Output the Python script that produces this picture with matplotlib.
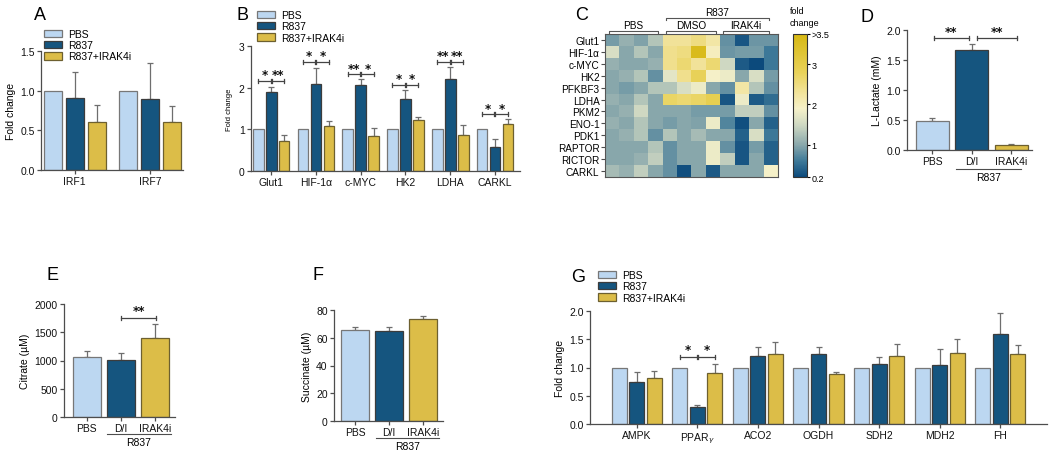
import numpy as np
import matplotlib
matplotlib.use('Agg')
from matplotlib import pyplot as plt
from matplotlib.colors import LinearSegmentedColormap, Normalize
from matplotlib.patches import Patch

plt.rcParams['font.family'] = ['Liberation Sans', 'DejaVu Sans']
plt.rcParams['font.size'] = 7
plt.rcParams['mathtext.fontset'] = 'dejavusans'

W, H = 1050, 456

# ---- data ----
legend_labels = ['PBS', 'R837', 'R837+IRAK4i']

a_genes = ['IRF1', 'IRF7']
a_pbs = [1.0, 1.0]
a_r837 = [0.91, 0.89]
a_r837_top = [1.23, 1.35]
a_irak = [0.61, 0.60]
a_irak_top = [0.82, 0.81]

b_genes = ['Glut1', 'HIF-1α', 'c-MYC', 'HK2', 'LDHA', 'CARKL']
b_pbs = [1.0, 1.0, 1.0, 1.0, 1.0, 1.0]
b_r837 = [1.90, 2.10, 2.06, 1.74, 2.22, 0.58]
b_r837_top = [2.02, 2.48, 2.22, 1.94, 2.50, 0.76]
b_irak = [0.73, 1.07, 0.84, 1.22, 0.86, 1.12]
b_irak_top = [0.87, 1.21, 1.04, 1.30, 1.10, 1.24]
b_sig_y = [2.16, 2.62, 2.32, 2.06, 2.62, 1.36]
b_sig_left = ['*', '*', '**', '*', '**', '*']
b_sig_right = ['**', '*', '*', '*', '**', '*']

c_rows = ['Glut1', 'HIF-1α', 'c-MYC', 'HK2', 'PFKBF3', 'LDHA', 'PKM2',
          'ENO-1', 'PDK1', 'RAPTOR', 'RICTOR', 'CARKL']
c_vals = [
    [0.9, 1.1, 0.95, 1.3, 2.3, 2.3, 2.5, 2.2, 0.8, 0.3, 0.85, 0.85],
    [1.6, 1.0, 1.3, 1.0, 2.4, 2.5, 3.6, 2.0, 0.85, 0.9, 0.9, 0.6],
    [1.1, 1.0, 1.0, 1.1, 2.4, 2.6, 2.3, 2.6, 1.5, 0.35, 0.2, 0.6],
    [1.0, 1.1, 1.3, 0.8, 1.7, 2.4, 2.8, 1.9, 1.8, 1.0, 1.6, 0.9],
    [1.0, 0.9, 1.0, 1.3, 1.3, 1.6, 1.8, 1.0, 0.8, 2.2, 1.3, 0.8],
    [1.1, 1.0, 1.3, 1.0, 2.7, 2.6, 2.7, 2.9, 0.3, 1.8, 0.35, 0.5],
    [1.0, 1.1, 1.5, 1.0, 1.0, 1.0, 0.9, 0.9, 0.9, 1.4, 1.4, 0.8],
    [1.1, 1.0, 1.3, 1.0, 0.9, 1.0, 0.95, 1.8, 0.7, 0.25, 1.0, 0.4],
    [1.0, 1.1, 1.3, 0.8, 1.3, 1.0, 1.2, 1.0, 1.0, 0.4, 1.6, 0.6],
    [1.0, 1.0, 1.0, 1.3, 0.8, 1.0, 1.0, 1.8, 0.8, 0.3, 0.9, 0.4],
    [1.0, 1.0, 1.1, 1.4, 0.8, 1.0, 1.0, 1.8, 1.4, 0.3, 1.0, 0.4],
    [1.2, 1.1, 1.4, 1.0, 0.8, 0.25, 1.0, 0.35, 1.0, 1.0, 1.0, 1.9],
]

cond3 = ['PBS', 'D/I', 'IRAK4i']
d_vals = [0.48, 1.67, 0.09]
d_top = [0.53, 1.76, 0.105]
e_vals = [1070, 1012, 1405]
e_top = [1160, 1137, 1648]
f_vals = [65.5, 65.0, 73.5]
f_top = [67.9, 68.0, 75.4]

g_genes = ['AMPK', r'PPAR$_{\gamma}$', 'ACO2', 'OGDH', 'SDH2', 'MDH2', 'FH']
g_pbs = [1.0] * 7
g_r837 = [0.74, 0.30, 1.21, 1.245, 1.07, 1.04, 1.59]
g_r837_top = [0.92, 0.33, 1.36, 1.36, 1.19, 1.32, 1.97]
g_irak = [0.82, 0.90, 1.245, 0.885, 1.20, 1.25, 1.245]
g_irak_top = [0.93, 1.07, 1.46, 0.92, 1.41, 1.51, 1.39]

# ---- style ----
COLS = ['#bcd7f1', '#15557f', '#dcbd48']
EDGE = '#3c3c3c'
ERRC = '#6e6e6e'
AXC = '#4d4d4d'

fig = plt.figure(figsize=(W / 100, H / 100), dpi=100)


def ax_px(l, t, r, b):
    return fig.add_axes([l / W, 1 - b / H, (r - l) / W, (b - t) / H])


def style(ax):
    for s in ['top', 'right']:
        ax.spines[s].set_visible(False)
    for s in ['left', 'bottom']:
        ax.spines[s].set_color(AXC)
        ax.spines[s].set_linewidth(0.9)
    ax.tick_params(color=AXC, labelcolor='#111111', length=3, width=0.9, labelsize=7.5, pad=1.5)


def err_up(ax, x, v, top):
    v = np.asarray(v, float)
    top = np.asarray(top, float)
    ax.errorbar(x, v, yerr=[np.zeros_like(v), top - v], fmt='none', ecolor=ERRC,
                elinewidth=0.9, capsize=2.5, capthick=0.9, zorder=1)


def grouped(ax, pbs, r837, r837_top, irak, irak_top, width, off):
    x = np.arange(len(pbs))
    ax.bar(x - off, pbs, width, color=COLS[0], edgecolor='#777777', lw=0.9, zorder=2)
    ax.bar(x, r837, width, color=COLS[1], edgecolor=EDGE, lw=0.9, zorder=2)
    ax.bar(x + off, irak, width, color=COLS[2], edgecolor='#6d6030', lw=0.9, zorder=2)
    err_up(ax, x, r837, r837_top)
    err_up(ax, x + off, irak, irak_top)
    return x


def bracket(ax, x1, x2, y, cap, txt, ty, fs=8.5):
    ax.plot([x1, x2], [y, y], color='#444444', lw=0.9, clip_on=False)
    for xx in (x1, x2):
        ax.plot([xx, xx], [y - cap, y + cap], color='#444444', lw=0.9, clip_on=False)
    ax.text((x1 + x2) / 2, ty, txt, ha='center', va='center', fontsize=fs,
            family='DejaVu Sans', weight='bold', color='#111111')


def legend(ax, x, y):
    handles = [Patch(facecolor=c, edgecolor=e, lw=0.9) for c, e in zip(COLS, ['#777777', EDGE, '#6d6030'])]
    ax.legend(handles, legend_labels, loc='upper left', bbox_to_anchor=(x / W, 1 - y / H),
              bbox_transform=fig.transFigure, frameon=False, fontsize=7.5, handlelength=1.7,
              handleheight=0.75, handletextpad=0.6, borderpad=0, borderaxespad=0, labelspacing=0.12)


def letter(x, y, s):
    fig.text(x / W, 1 - y / H, s, fontsize=13, ha='center', va='center')


def r837_under(ax, x1, x2, yl, yt):
    tr = ax.get_xaxis_transform()
    ax.plot([x1, x2], [yl, yl], color=AXC, lw=0.8, transform=tr, clip_on=False)
    ax.text((x1 + x2) / 2, yt, 'R837', transform=tr, ha='center', va='center', fontsize=7.5)


# ---- A ----
ax = ax_px(41, 52, 183, 171)
style(ax)
x = grouped(ax, a_pbs, a_r837, a_r837_top, a_irak, a_irak_top, 0.235, 0.293)
ax.set_xlim(-0.45, 1.44)
ax.set_ylim(0, 1.5)
ax.set_yticks([0, 0.5, 1.0, 1.5])
ax.set_yticklabels(['0.0', '0.5', '1.0', '1.5'])
ax.set_xticks(x)
ax.set_xticklabels(a_genes)
ax.set_ylabel('Fold change', fontsize=7.5, labelpad=3)
legend(ax, 44, 30)
letter(40, 15, 'A')

# ---- B ----
ax = ax_px(251, 47, 520, 172)
style(ax)
x = grouped(ax, b_pbs, b_r837, b_r837_top, b_irak, b_irak_top, 0.24, 0.29)
ax.set_xlim(-0.45, 5.56)
ax.set_ylim(0, 3)
ax.set_yticks([0, 1, 2, 3])
ax.set_xticks(x)
ax.set_xticklabels(b_genes)
ax.set_ylabel('Fold change', fontsize=5.5, labelpad=4)
for i in range(len(b_genes)):
    y = b_sig_y[i]
    bracket(ax, i - 0.29, i - 0.01, y, 0.05, b_sig_left[i], y + 0.15)
    bracket(ax, i + 0.01, i + 0.29, y, 0.05, b_sig_right[i], y + 0.15)
legend(ax, 257, 11)
letter(243, 15, 'B')

# ---- C ----
cmap = LinearSegmentedColormap.from_list('fc', [
    (0.0, '#0c4a7c'), ((0.6 - 0.2) / 3.55, '#3f7a99'), ((1.0 - 0.2) / 3.55, '#8aa8ac'),
    ((1.5 - 0.2) / 3.55, '#d0d9c3'), ((1.9 - 0.2) / 3.55, '#f6f1c9'),
    ((2.3 - 0.2) / 3.55, '#f2e39a'), ((2.8 - 0.2) / 3.55, '#e9d259'), (1.0, '#d7b812')])
norm = Normalize(0.2, 3.75)
ax = ax_px(605, 35, 778, 178)
im = ax.imshow(np.array(c_vals), cmap=cmap, norm=norm, aspect='auto', interpolation='nearest')
ax.set_xticks([])
ax.set_yticks(range(len(c_rows)))
ax.set_yticklabels(c_rows, fontsize=7.2)
ax.tick_params(axis='y', length=3, width=0.8, color=AXC, pad=1)
for s in ax.spines.values():
    s.set_color('#555555')
    s.set_linewidth(0.8)
for x1, x2, yb, lab in [(-0.22, 3.18, -0.75, 'PBS'), (3.7, 7.2, -0.75, 'DMSO'),
                        (7.67, 10.9, -0.75, 'IRAK4i'), (3.7, 10.9, -1.85, 'R837')]:
    ax.plot([x1, x1, x2, x2], [yb + 0.2, yb, yb, yb + 0.2], color='#555555', lw=0.8, clip_on=False)
    ax.text((x1 + x2) / 2, yb - 0.5, lab, ha='center', va='center', fontsize=7.2)
ax.set_xlim(-0.5, len(c_vals[0]) - 0.5)
ax.set_ylim(len(c_rows) - 0.5, -0.5)
cax = ax_px(793, 35, 807, 178)
cb = fig.colorbar(im, cax=cax, ticks=[0.2, 1, 2, 3, 3.75])
cb.ax.set_yticklabels(['0.2', '1', '2', '3', '>3.5'])
cb.ax.tick_params(labelsize=6.5, length=2, width=0.8, pad=1)
cb.outline.set_linewidth(0.8)
cb.outline.set_edgecolor('#333333')
fig.text(790 / W, 1 - 12 / H, 'fold', fontsize=6.5, ha='left', va='center')
fig.text(790 / W, 1 - 24 / H, 'change', fontsize=6.5, ha='left', va='center')
letter(582, 15, 'C')

# ---- D ----
ax = ax_px(907, 31, 1032, 151)
style(ax)
x = np.arange(3)
ax.bar(x, d_vals, 0.83, color=COLS, edgecolor=['#777777', EDGE, '#6d6030'], lw=0.9, zorder=2)
err_up(ax, x, d_vals, d_top)
ax.set_xlim(-0.64, 2.52)
ax.set_ylim(0, 2)
ax.set_yticks([0, 0.5, 1.0, 1.5, 2.0])
ax.set_yticklabels(['0.0', '0.5', '1.0', '1.5', '2.0'])
ax.set_xticks(x)
ax.set_xticklabels(cond3)
ax.set_ylabel('L-Lactate (mM)', fontsize=7.5, labelpad=3)
bracket(ax, 0.03, 0.92, 1.86, 0.035, '**', 1.98)
bracket(ax, 1.12, 2.15, 1.86, 0.035, '**', 1.98)
r837_under(ax, 0.6, 2.25, -0.16, -0.225)
letter(867, 17, 'D')

# ---- E ----
ax = ax_px(64, 305, 175, 418)
style(ax)
ax.bar(x, e_vals, 0.81, color=COLS, edgecolor=['#777777', EDGE, '#6d6030'], lw=0.9, zorder=2)
err_up(ax, x, e_vals, e_top)
ax.set_xlim(-0.67, 2.58)
ax.set_ylim(0, 2000)
ax.set_yticks([0, 500, 1000, 1500, 2000])
ax.set_xticks(x)
ax.set_xticklabels(cond3)
ax.set_ylabel('Citrate (µM)', fontsize=7.5, labelpad=3)
bracket(ax, 1.0, 2.03, 1753, 35, '**', 1880)
r837_under(ax, 0.6, 2.45, -0.15, -0.22)
letter(52, 275, 'E')

# ---- F ----
ax = ax_px(334, 311, 443, 422)
style(ax)
ax.bar(x, f_vals, 0.81, color=COLS, edgecolor=['#777777', EDGE, '#6d6030'], lw=0.9, zorder=2)
err_up(ax, x, f_vals, f_top)
ax.set_xlim(-0.62, 2.58)
ax.set_ylim(0, 80)
ax.set_yticks([0, 20, 40, 60, 80])
ax.set_xticks(x)
ax.set_xticklabels(cond3)
ax.set_ylabel('Succinate (µM)', fontsize=7.5, labelpad=3)
r837_under(ax, 0.6, 2.45, -0.155, -0.225)
letter(318, 275, 'F')

# ---- G ----
ax = ax_px(590, 312, 1047, 425)
style(ax)
x = grouped(ax, g_pbs, g_r837, g_r837_top, g_irak, g_irak_top, 0.25, 0.29)
ax.set_xlim(-0.77, 6.77)
ax.set_ylim(0, 2)
ax.set_yticks([0, 0.5, 1.0, 1.5, 2.0])
ax.set_yticklabels(['0.0', '0.5', '1.0', '1.5', '2.0'])
ax.set_xticks(x)
ax.set_xticklabels(g_genes)
ax.set_ylabel('Fold change', fontsize=7.5, labelpad=3)
bracket(ax, 1 - 0.29, 1 - 0.01, 1.19, 0.035, '*', 1.31)
bracket(ax, 1 + 0.01, 1 + 0.29, 1.19, 0.035, '*', 1.31)
legend(ax, 598, 271)
letter(578, 278, 'G')

fig.savefig('out.png', dpi=100)
